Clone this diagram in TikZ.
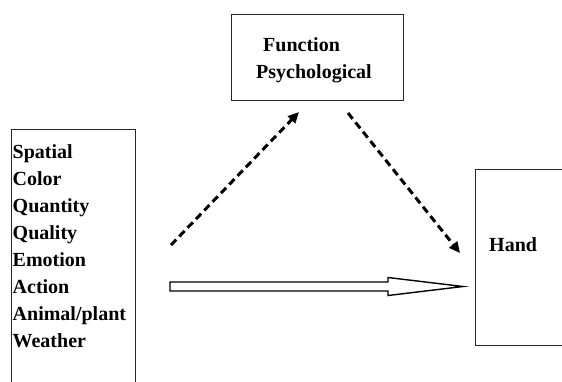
\documentclass[tikz,border=0pt]{standalone}
\usepackage{fontspec}
\setmainfont{Liberation Serif}
\usetikzlibrary{arrows.meta}
\tikzset{
  boxshape/.style={draw=black!85, line width=1.4bp, rectangle, inner sep=0pt, anchor=north west},
  lbl/.style={inner sep=0pt, anchor=base west, font=\fontsize{20bp}{24bp}\selectfont\bfseries},
  dasharrow/.style={line width=3bp, dash pattern=on 7.5bp off 4.5bp, -{Triangle[length=11bp,width=10bp]}},
  hollowarrow/.style={draw=black, line width=1.4bp, fill=white, line join=miter},
}
\begin{document}
\begin{tikzpicture}[x=1bp,y=-1bp]
\useasboundingbox (0,0) rectangle (562,381);
\clip (0,0) rectangle (562,381);
% boxes
\node[boxshape, minimum width=124bp, minimum height=280bp] (left) at (11,129) {};
\node[boxshape, minimum width=172bp, minimum height=86bp] (top) at (231,14) {};
\node[boxshape, minimum width=120bp, minimum height=176bp] (right) at (475,169) {};
% texts
\foreach \t [count=\i] in {Spatial,Color,Quantity,Quality,Emotion,Action,Animal/plant,Weather}
  \node[lbl] (l\i) at (12.5,{158+27*(\i-1)}) {\t};
\node[lbl] (fun) at (263,51) {Function};
\node[lbl] (psy) at (256,78) {Psychological};
\node[lbl] (hand) at (489,251) {Hand};
% connector ends
\coordinate (a1s) at (171,245);
\coordinate (a1e) at (299,112);
\coordinate (a2s) at (348,113);
\coordinate (a2e) at (460,253);
\draw[dasharrow] (a1s) -- (a1e);
\draw[dasharrow] (a2s) -- (a2e);
% hollow arrow
\coordinate (h1) at (170,282);
\coordinate (h2) at (388,282);
\coordinate (h3) at (388,277.5);
\coordinate (htip) at (463,286.5);
\coordinate (h5) at (388,295.5);
\coordinate (h6) at (388,291);
\coordinate (h7) at (170,291);
\draw[hollowarrow] (h1) -- (h2) -- (h3) -- (htip) -- (h5) -- (h6) -- (h7) -- cycle;
\end{tikzpicture}
\end{document}
